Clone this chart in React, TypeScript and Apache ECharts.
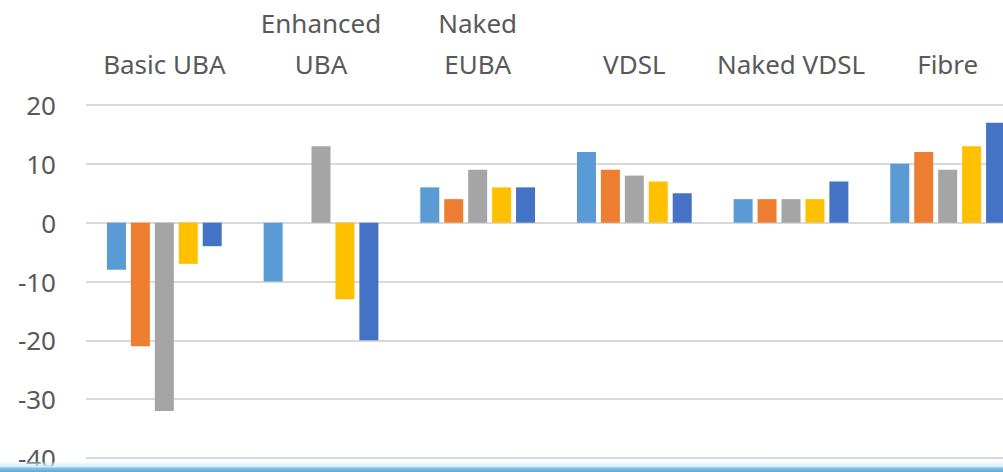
import React, { useEffect, useRef } from "react";
import * as echarts from "echarts";

const categories = ["Basic UBA", "Enhanced\nUBA", "Naked\nEUBA", "VDSL", "Naked VDSL", "Fibre"];
const series1 = [-8, -10, 6, 12, 4, 10];
const series2 = [-21, 0, 4, 9, 4, 12];
const series3 = [-32, 13, 9, 8, 4, 9];
const series4 = [-7, -13, 6, 7, 4, 13];
const series5 = [-4, -20, 6, 5, 7, 17];
const colors = ["#5B9BD5", "#ED7D31", "#A5A5A5", "#FFC000", "#4472C4"];

export default function App() {
  const ref = useRef<HTMLDivElement>(null);
  useEffect(() => {
    document.body.style.margin = "0";
    const chart = echarts.init(ref.current!, undefined, { renderer: "svg" });
    const all = [series1, series2, series3, series4, series5];
    chart.setOption({
      animation: false,
      grid: { left: 86, top: 105, width: 940, height: 353, outerBoundsMode: "none", containLabel: false },
      xAxis: {
        type: "category",
        position: "top",
        data: categories,
        axisLine: { show: false },
        axisTick: { show: false },
        axisLabel: {
          color: "#595959",
          fontFamily: "Noto Sans",
          fontSize: 26,
          lineHeight: 41,
          margin: 21,
          interval: 0,
        },
      },
      yAxis: {
        type: "value",
        min: -40,
        max: 20,
        interval: 10,
        axisLine: { show: false },
        axisTick: { show: false },
        splitLine: { lineStyle: { color: "#D9D9D9", width: 2 } },
        axisLabel: {
          color: "#595959",
          fontFamily: "Noto Sans",
          fontSize: 26,
          margin: 30,
        },
      },
      series: all.map((d, i) => ({
        type: "bar",
        data: d,
        barWidth: 19,
        barGap: "26%",
        itemStyle: { color: colors[i] },
      })),
      graphic: [
        {
          type: "rect",
          left: 0,
          top: 462,
          shape: { width: 1003, height: 10 },
          style: {
            fill: new echarts.graphic.LinearGradient(0, 0, 0, 1, [
              { offset: 0, color: "rgba(220,238,250,0.3)" },
              { offset: 0.5, color: "#d6ecf8" },
              { offset: 0.6, color: "#7cc6ec" },
              { offset: 1, color: "#5aa9dc" },
            ]),
          },
          z: 100,
        },
      ],
    });
    return () => chart.dispose();
  }, []);
  return <div ref={ref} style={{ width: 1003, height: 472 }} />;
}
